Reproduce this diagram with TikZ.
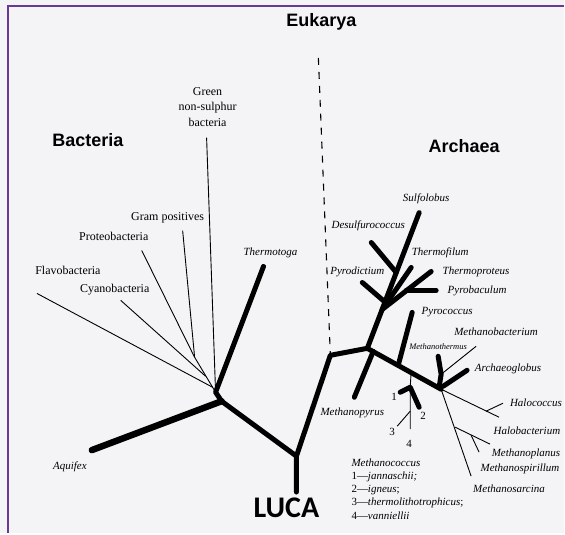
\documentclass[tikz,border=0pt]{standalone}
\usepackage{fontspec}
\setmainfont{Liberation Serif}
\newfontfamily\domainfont{Liberation Sans}
\newfontfamily\lucafont{Carlito}
\usetikzlibrary{positioning}

\definecolor{framepurple}{RGB}{104,58,150}
\definecolor{paper}{RGB}{244,244,247}

\begin{document}
\begin{tikzpicture}[x=1pt, y=-1pt,
    thinedge/.style={line width=0.9pt},
    thickedge/.style={line width=5pt, line cap=round, line join=round},
    eukdash/.style={line width=1.1pt, dash pattern=on 7pt off 7pt},
    taxon/.style={inner sep=0pt, font=\itshape\fontsize{11}{13}\selectfont},
    group/.style={inner sep=0pt, font=\fontsize{12}{15.5}\selectfont},
    domainlabel/.style={inner sep=0pt, font=\domainfont\bfseries\fontsize{18}{20}\selectfont},
    num/.style={inner sep=0pt, font=\fontsize{11}{12}\selectfont}]
        % Background and frame
        \fill[paper] (0,0) rectangle (565,534);
        \draw[framepurple, line width=2.2pt] (8,534) -- (8,6) -- (565,6);

        % Define nodes: root and bacteria
        \coordinate (root) at (297,493);
        \coordinate (luca) at (297,457);
        \coordinate (bhub) at (222,402);
        \coordinate (btop) at (216,393);
        \coordinate (aquifex) at (92,451);
        \coordinate (thermotoga) at (264,267);
        \coordinate (green) at (207,138);
        \coordinate (gram) at (183,231);
        \coordinate (proteo) at (142,251);
        \coordinate (gjoin) at (195,358);
        \coordinate (cyano) at (121,301);
        \coordinate (cjoin) at (206,377);
        \coordinate (flavo) at (37,294);
        \coordinate (fjoin) at (213,388);

        % Define nodes: archaea
        \coordinate (a0) at (331,356);
        \coordinate (eukarya) at (319,58);
        \coordinate (a1) at (368,349);
        \coordinate (sulfolobus) at (420,213);
        \coordinate (desulf) at (372,243);
        \coordinate (dsjoin) at (397,273);
        \coordinate (pyrodictium) at (363,283);
        \coordinate (pdjoin) at (385,302);
        \coordinate (thermofilum) at (412,268);
        \coordinate (thermoproteus) at (432,272);
        \coordinate (tpjoin) at (407,291);
        \coordinate (pyrobaculum) at (437,291);
        \coordinate (tfjoin) at (383,310);
        \coordinate (pyrococcus) at (413,313);
        \coordinate (pcjoin) at (399,366);
        \coordinate (methanopyrus) at (355,398);
        \coordinate (mpjoin) at (374,352);
        \coordinate (a2) at (442,390);
        \coordinate (mcjoin) at (412,372);
        \coordinate (mcsplit) at (411,388);
        \coordinate (mc1) at (401,393);
        \coordinate (mc2) at (420,408);
        \coordinate (mc3join) at (411,412);
        \coordinate (mc3) at (398,427);
        \coordinate (mc4) at (411,430);
        \coordinate (mtjoin) at (442,375);
        \coordinate (methanothermus) at (439,357);
        \coordinate (methanobacterium) at (477,347);
        \coordinate (mtbase) at (440,388);
        \coordinate (archaeoglobus) at (468,371);
        \coordinate (agjoin) at (444,387);
        \coordinate (halobacterium) at (500,418);
        \coordinate (hcjoin) at (487,412);
        \coordinate (halococcus) at (504,404);
        \coordinate (methanosarcina) at (472,477);
        \coordinate (msjoin) at (456,428);
        \coordinate (methanoplanus) at (491,445);
        \coordinate (mpljoin) at (472,436);
        \coordinate (methanospirillum) at (480,453);

        % Draw edges: bacteria
        \draw[thickedge, line width=6.5pt] (aquifex) -- (bhub);
        \draw[thickedge] (root) -- (luca) -- (bhub) -- (btop) -- (thermotoga);
        \draw[thinedge] (green) -- (btop);
        \draw[thinedge] (gram) -- (gjoin);
        \draw[thinedge] (proteo) -- (gjoin);
        \draw[thinedge] (gjoin) -- (btop);
        \draw[thinedge] (cyano) -- (cjoin);
        \draw[thinedge] (flavo) -- (fjoin);

        % Draw edges: archaea
        \draw[eukdash] (eukarya) -- (a0);
        \draw[thickedge] (luca) -- (a0) -- (a1) -- (a2);
        \draw[thickedge] (a1) -- (sulfolobus);
        \draw[thickedge] (desulf) -- (dsjoin);
        \draw[thickedge] (pyrodictium) -- (pdjoin);
        \draw[thickedge] (thermofilum) -- (tfjoin);
        \draw[thickedge] (thermoproteus) -- (tfjoin);
        \draw[thickedge] (pyrobaculum) -- (tpjoin);
        \draw[thickedge] (pyrococcus) -- (pcjoin);
        \draw[thickedge] (methanopyrus) -- (mpjoin);
        \draw[thinedge] (mcjoin) -- (mcsplit) -- (mc4);
        \draw[thickedge] (mc1) -- (mcsplit) -- (mc2);
        \draw[thinedge] (mc3join) -- (mc3);
        \draw[thickedge] (methanothermus) -- (mtjoin) -- (mtbase);
        \draw[thinedge] (methanobacterium) -- (mtjoin);
        \draw[thickedge] (archaeoglobus) -- (agjoin);
        \draw[thinedge] (a2) -- (halobacterium);
        \draw[thinedge] (hcjoin) -- (halococcus);
        \draw[thinedge] (a2) -- (methanosarcina);
        \draw[thinedge] (msjoin) -- (methanoplanus);
        \draw[thinedge] (mpljoin) -- (methanospirillum);

        % Labels
        \node[domainlabel] (eukaryal) at (322,22) {Eukarya};
        \node[domainlabel] (bacterial) at (88,140) {Bacteria};
        \node[domainlabel] (archaeal) at (465,146) {Archaea};
        \node[inner sep=0pt, font=\lucafont\bfseries\fontsize{30}{32}\selectfont] (lucal) at (287,509) {LUCA};

        \node[group, align=center] (greenl) at (208,107) {Green\\non-sulphur\\bacteria};
        \node[group] (graml) at (168,218) {Gram positives};
        \node[group] (proteol) at (114,237) {Proteobacteria};
        \node[group] (flavol) at (68,271) {Flavobacteria};
        \node[group] (cyanol) at (115,290) {Cyanobacteria};
        \node[taxon] (thermotogal) at (271,253) {Thermotoga};
        \node[taxon] (aquifexl) at (70,468) {Aquifex};

        \node[taxon] (sulfolobusl) at (427,199) {Sulfolobus};
        \node[taxon] (desulfl) at (369,226) {Desulfurococcus};
        \node[taxon] (thermofiluml) at (441,253) {Thermofilum};
        \node[taxon] (pyrodictiuml) at (358,272) {Pyrodictium};
        \node[taxon] (thermoproteusl) at (477,272) {Thermoproteus};
        \node[taxon] (pyrobaculuml) at (478,291) {Pyrobaculum};
        \node[taxon] (pyrococcusl) at (448,313) {Pyrococcus};
        \node[taxon] (methanobacteriuml) at (497,332) {Methanobacterium};
        \node[taxon, font=\itshape\fontsize{8.5}{10}\selectfont] (methanothermusl) at (439,347) {Methanothermus};
        \node[taxon] (archaeoglobusl) at (509,370) {Archaeoglobus};
        \node[taxon] (methanopyrusl) at (353,414) {Methanopyrus};
        \node[taxon] (halococcusl) at (537,404) {Halococcus};
        \node[taxon] (halobacteriuml) at (528,432) {Halobacterium};
        \node[taxon] (methanoplanusl) at (527,455) {Methanoplanus};
        \node[taxon] (methanospirilluml) at (521,470) {Methanospirillum};
        \node[taxon] (methanosarcinal) at (510,490) {Methanosarcina};

        \node[num] (mc1l) at (395,398) {1};
        \node[num] (mc2l) at (424,417) {2};
        \node[num] (mc3l) at (393,433) {3};
        \node[num] (mc4l) at (410,445) {4};
        \node[inner sep=0pt, anchor=west, align=left, font=\fontsize{11}{13.2}\selectfont] (methanococcusl) at (352,490)
            {\textit{Methanococcus}\\1—\textit{jannaschii;}\\2—\textit{igneus};\\3—\textit{thermolithotrophicus};\\4—\textit{vanniellii}};
\end{tikzpicture}
\end{document}
